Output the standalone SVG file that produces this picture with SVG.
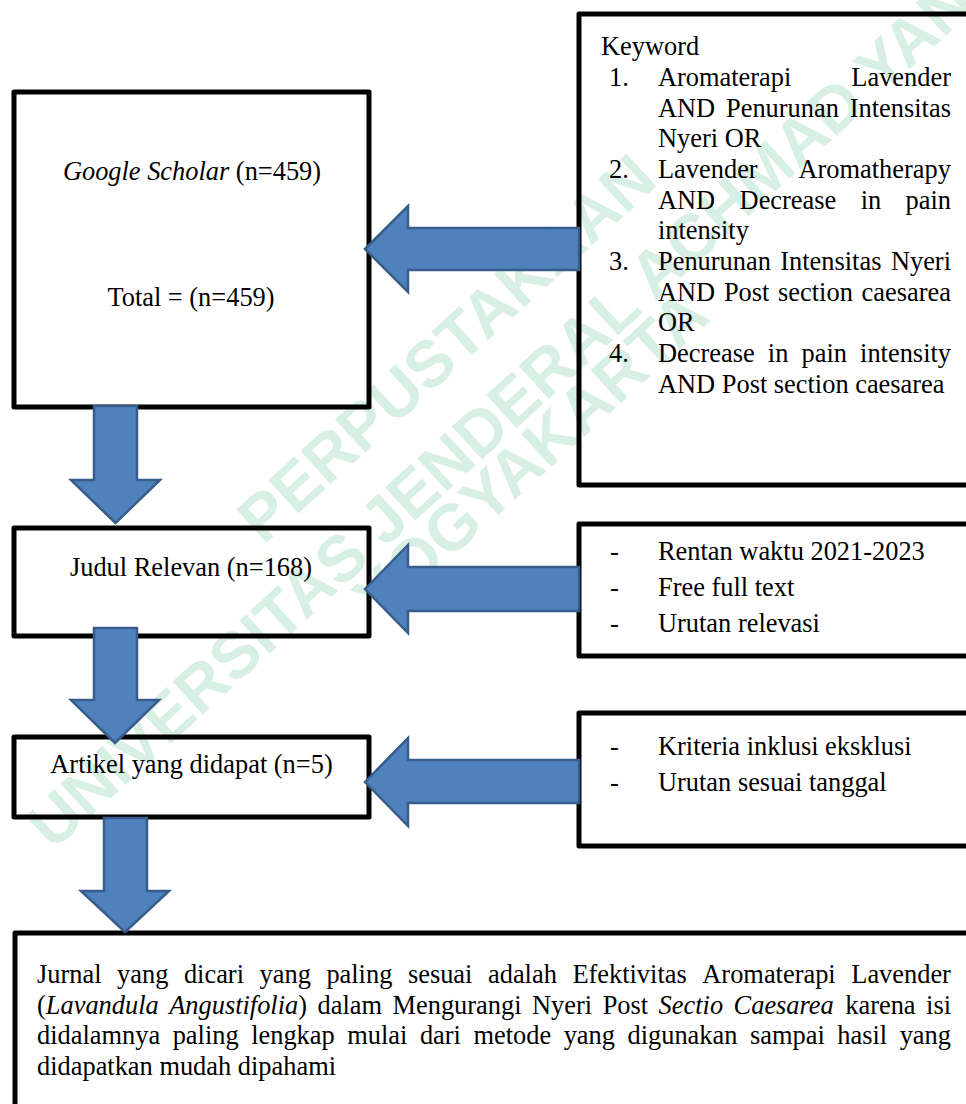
<svg xmlns="http://www.w3.org/2000/svg" width="966" height="1104" viewBox="0 0 966 1104">
<style>
.box{fill:none;stroke:#000;stroke-width:5;stroke-linejoin:round}
.arr{fill:#4F81BD;stroke:#385D8A;stroke-width:2.5;stroke-linejoin:miter}
.t{font-family:"Liberation Serif","Times New Roman",serif;font-size:26.4px;fill:#000}
.i{font-style:italic}
.wm{font-family:"Liberation Sans",Arial,sans-serif;font-weight:bold;font-size:65px;fill:#16a05c;fill-opacity:0.17}
</style>
<rect width="966" height="1104" fill="#fff"/>
<g id="watermark" transform="translate(521.8,423.2) rotate(-42.4)">
<text class="wm" x="-5" y="-84" text-anchor="middle">PERPUSTAKAAN</text>
<text class="wm" x="0" y="0" text-anchor="middle">UNIVERSITAS JENDERAL ACHMAD YANI</text>
<text class="wm" x="-15" y="52" text-anchor="middle">YOGYAKARTA</text>
</g>
<g id="google-scholar">
<rect class="box" x="14" y="92" width="355" height="315"/>
<text class="t" x="192" y="180" text-anchor="middle"><tspan class="i">Google Scholar</tspan> (n=459)</text>
<text class="t" x="191" y="306" text-anchor="middle">Total = (n=459)</text>
</g>
<g id="keyword">
<rect class="box" x="579" y="14" width="500" height="471"/>
<text class="t" x="601" y="55">Keyword</text>
<text class="t" x="609" y="86">1.</text>
<text class="t" y="86"><tspan x="658">Aromaterapi</tspan><tspan x="851.3">Lavender</tspan></text>
<text class="t" y="116.5"><tspan x="658">AND</tspan><tspan x="726">Penurunan</tspan><tspan x="849.8">Intensitas</tspan></text>
<text class="t" x="658" y="147">Nyeri OR</text>
<text class="t" x="609" y="177.8">2.</text>
<text class="t" y="177.8"><tspan x="658">Lavender</tspan><tspan x="798.5">Aromatherapy</tspan></text>
<text class="t" y="208.5"><tspan x="658">AND</tspan><tspan x="739.6">Decrease</tspan><tspan x="860.7">in</tspan><tspan x="905.5">pain</tspan></text>
<text class="t" x="658" y="239.2">intensity</text>
<text class="t" x="609" y="270">3.</text>
<text class="t" y="270"><tspan x="658">Penurunan</tspan><tspan x="780.3">Intensitas</tspan><tspan x="890.9">Nyeri</tspan></text>
<text class="t" y="300.6"><tspan x="658">AND</tspan><tspan x="723.9">Post</tspan><tspan x="778.1">section</tspan><tspan x="861.6">caesarea</tspan></text>
<text class="t" x="658" y="331.3">OR</text>
<text class="t" x="609" y="362">4.</text>
<text class="t" y="362"><tspan x="658">Decrease</tspan><tspan x="767.8">in</tspan><tspan x="801.5">pain</tspan><tspan x="860.1">intensity</tspan></text>
<text class="t" x="658" y="392.7">AND Post section caesarea</text>
</g>
<g id="judul-relevan">
<rect class="box" x="14" y="528" width="355" height="108"/>
<text class="t" x="191" y="576" text-anchor="middle">Judul Relevan (n=168)</text>
</g>
<g id="filter-1">
<rect class="box" x="579" y="524" width="500" height="132"/>
<text class="t" x="610" y="560">-</text><text class="t" x="658" y="560">Rentan waktu 2021-2023</text>
<text class="t" x="610" y="596">-</text><text class="t" x="658" y="596">Free full text</text>
<text class="t" x="610" y="632">-</text><text class="t" x="658" y="632">Urutan relevasi</text>
</g>
<g id="artikel">
<rect class="box" x="14" y="737" width="355" height="80"/>
<text class="t" x="191.5" y="773" text-anchor="middle">Artikel yang didapat (n=5)</text>
</g>
<g id="filter-2">
<rect class="box" x="579" y="713" width="500" height="133"/>
<text class="t" x="610" y="755">-</text><text class="t" x="658" y="755">Kriteria inklusi eksklusi</text>
<text class="t" x="610" y="791">-</text><text class="t" x="658" y="791">Urutan sesuai tanggal</text>
</g>
<g id="hasil">
<rect class="box" x="15" y="933" width="1000" height="300"/>
<text class="t" y="983"><tspan x="37">Jurnal</tspan><tspan x="117.05">yang</tspan><tspan x="183.9">dicari</tspan><tspan x="259.54">yang</tspan><tspan x="326.39">paling</tspan><tspan x="407.92">sesuai</tspan><tspan x="487.97">adalah</tspan><tspan x="572.4">Efektivitas</tspan><tspan x="702.32">Aromaterapi</tspan><tspan x="851.28">Lavender</tspan></text>
<text class="t" y="1013.7"><tspan x="37">(<tspan class="i">Lavandula</tspan></tspan><tspan x="169.2" class="i">Angustifolia</tspan><tspan>)</tspan><tspan x="317.56">dalam</tspan><tspan x="392.55">Mengurangi</tspan><tspan x="532.06">Nyeri</tspan><tspan x="602.64">Post</tspan><tspan x="658.6" class="i">Sectio</tspan><tspan x="733.59" class="i">Caesarea</tspan><tspan x="845.25">karena</tspan><tspan x="926.08">isi</tspan></text>
<text class="t" y="1044.4"><tspan x="37">didalamnya</tspan><tspan x="172.68">paling</tspan><tspan x="251.18">lengkap</tspan><tspan x="347.26">mulai</tspan><tspan x="419.9">dari</tspan><tspan x="473.45">metode</tspan><tspan x="563.67">yang</tspan><tspan x="627.49">digunakan</tspan><tspan x="749.97">sampai</tspan><tspan x="837.26">hasil</tspan><tspan x="899.63">yang</tspan></text>
<text class="t" x="37" y="1075.1">didapatkan mudah dipahami</text>
</g>
<g id="connectors">
<polygon class="arr" points="365,249 408,206 408,228 579,228 579,270 408,270 408,292"/>
<polygon class="arr" points="365,589 408,545 408,567 579,567 579,611 408,611 408,633"/>
<polygon class="arr" points="365,782 408,738 408,760 579,760 579,803 408,803 408,826"/>
<polygon class="arr" points="94,406 137,406 137,480 160,480 115.5,523 71,480 94,480"/>
<polygon class="arr" points="94,628 137,628 137,700 159,700 115,743 71,700 94,700"/>
<polygon class="arr" points="104,818 147,818 147,891 169,891 125,932 81,891 104,891"/>
</g>
</svg>
